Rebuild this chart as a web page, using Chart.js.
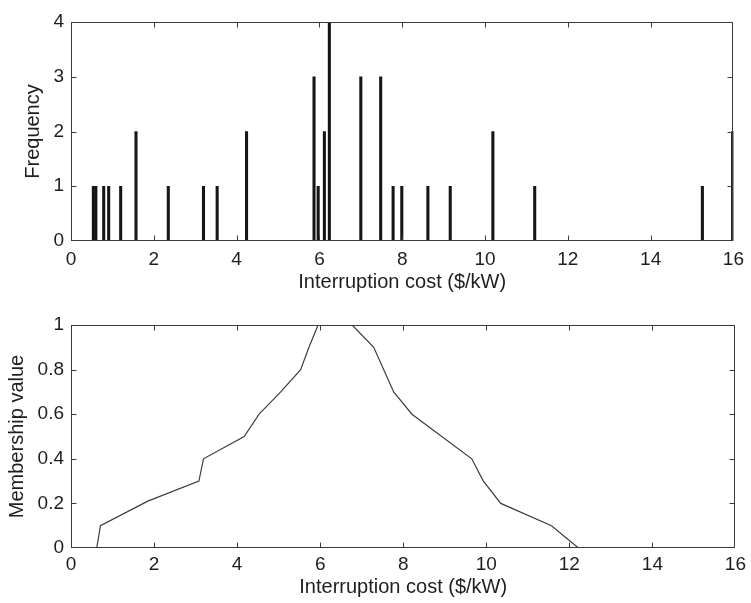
<!DOCTYPE html>
<html>
<head>
<meta charset="utf-8">
<script src="https://cdn.jsdelivr.net/npm/chart.js@4"></script>
<style>
body { margin: 0; background: #fff; }
#wrap { position: relative; width: 751px; height: 603px; background: #fff; }
canvas { position: absolute; left: 0; }
</style>
</head>
<body>
<div id="wrap">
  <canvas id="freqChart" width="751" height="300" style="top:0px"></canvas>
  <canvas id="memberChart" width="751" height="303" style="top:300px"></canvas>
</div>
<script>
// histogram of interruption costs
var costValues = [0.54, 0.60, 0.79, 0.91, 1.20, 1.57, 2.35, 3.20, 3.53, 4.24,
                  5.87, 5.97, 6.12, 6.24, 7.00, 7.48, 7.78, 7.99, 8.62, 9.16,
                  10.19, 11.20, 15.25, 15.98];
var costFrequency = [1, 1, 1, 1, 1, 2, 1, 1, 1, 2,
                     3, 1, 2, 4, 3, 3, 1, 1, 1, 1,
                     2, 1, 1, 2];

// membership function
var memberCost = [0.62, 0.71, 1.85, 3.08, 3.19, 4.17, 4.53, 5.05, 5.53, 5.73,
                  5.95, 6.77, 7.29, 7.77, 8.21, 9.65, 9.93, 10.35, 11.57, 12.22];
var memberValue = [0, 0.1, 0.21, 0.3, 0.4, 0.5, 0.6, 0.7, 0.8, 0.9,
                   1, 1, 0.9, 0.7, 0.6, 0.4, 0.3, 0.2, 0.1, 0];

var costTicks = [0, 2, 4, 6, 8, 10, 12, 14, 16];
var freqTicks = [0, 1, 2, 3, 4];
var memberTicks = [0, 0.2, 0.4, 0.6, 0.8, 1];

var fontFamily = '"Liberation Sans", Arial, Helvetica, sans-serif';
var textColor = '#1e1e1e';

// MATLAB style box with inward ticks
var boxPlugin = {
    id: 'matlabBox',
    afterDraw: function(chart) {
        var a = chart.chartArea;
        var ctx = chart.ctx;
        var l = Math.round(a.left) + 0.5, r = Math.round(a.right) - 0.5;
        var t = Math.round(a.top) + 0.5, b = Math.round(a.bottom) - 0.5;
        ctx.save();
        ctx.strokeStyle = '#3a3a3a';
        ctx.lineWidth = 1;
        ctx.strokeRect(l, t, r - l, b - t);
        ctx.beginPath();
        chart.scales.x.ticks.forEach(function(tk) {
            var px = Math.round(chart.scales.x.getPixelForValue(tk.value)) + 0.5;
            if (px <= l + 1 || px >= r - 1) return;
            ctx.moveTo(px, b); ctx.lineTo(px, b - 5);
            ctx.moveTo(px, t); ctx.lineTo(px, t + 5);
        });
        chart.scales.y.ticks.forEach(function(tk) {
            var py = Math.round(chart.scales.y.getPixelForValue(tk.value)) + 0.5;
            if (py <= t + 1 || py >= b - 1) return;
            ctx.moveTo(l, py); ctx.lineTo(l + 5, py);
            ctx.moveTo(r, py); ctx.lineTo(r - 5, py);
        });
        ctx.stroke();
        ctx.restore();
    }
};

function plainLabel(value) {
    return String(+value.toFixed(2));
}

function costAxis(tickPad, titlePad, axisHeight) {
    return {
        type: 'linear',
        min: 0,
        max: 16,
        offset: false,
        afterBuildTicks: function(scale) {
            scale.ticks = costTicks.map(function(v) { return { value: v }; });
        },
        afterFit: function(scale) { scale.height = axisHeight; },
        grid: { display: false, drawTicks: false, offset: false },
        border: { display: false },
        ticks: {
            padding: tickPad,
            maxRotation: 0,
            autoSkip: false,
            color: textColor,
            callback: plainLabel,
            font: { family: fontFamily, size: 19 }
        },
        title: {
            display: true,
            text: 'Interruption cost ($/kW)',
            color: textColor,
            padding: { top: 0, bottom: titlePad },
            font: { family: fontFamily, size: 20 }
        }
    };
}

function valueAxis(max, tickList, label, titlePad) {
    return {
        type: 'linear',
        min: 0,
        max: max,
        afterBuildTicks: function(scale) {
            scale.ticks = tickList.map(function(v) { return { value: v }; });
        },
        afterFit: function(scale) { scale.width = 71; },
        grid: { display: false, drawTicks: false },
        border: { display: false },
        ticks: {
            padding: 7,
            color: textColor,
            callback: plainLabel,
            font: { family: fontFamily, size: 19 }
        },
        title: {
            display: true,
            text: label,
            color: textColor,
            padding: { top: titlePad, bottom: 0 },
            font: { family: fontFamily, size: 20 }
        }
    };
}

var freqPoints = costValues.map(function(c, i) { return { x: c, y: costFrequency[i] }; });
var memberPoints = memberCost.map(function(c, i) { return { x: c, y: memberValue[i] }; });

new Chart(document.getElementById('freqChart').getContext('2d'), {
    type: 'bar',
    data: {
        datasets: [{
            label: 'Frequency',
            data: freqPoints,
            backgroundColor: '#151515',
            borderWidth: 0,
            barThickness: 2.4
        }]
    },
    options: {
        responsive: false,
        animation: false,
        layout: { padding: { left: 0, right: 13, top: 22, bottom: 0 } },
        plugins: { legend: { display: false }, tooltip: { enabled: false } },
        scales: {
            x: costAxis(7, 6, 59),
            y: valueAxis(4, freqTicks, 'Frequency', 21)
        }
    },
    plugins: [boxPlugin]
});

new Chart(document.getElementById('memberChart').getContext('2d'), {
    type: 'line',
    data: {
        datasets: [{
            label: 'Membership value',
            data: memberPoints,
            borderColor: '#3c3c3c',
            borderWidth: 1.2,
            pointRadius: 0,
            fill: false,
            tension: 0
        }]
    },
    options: {
        responsive: false,
        animation: false,
        layout: { padding: { left: 0, right: 13, top: 25, bottom: 0 } },
        plugins: { legend: { display: false }, tooltip: { enabled: false } },
        scales: {
            x: costAxis(5, 4, 55),
            y: valueAxis(1, memberTicks, 'Membership value', 5)
        }
    },
    plugins: [boxPlugin]
});
</script>
</body>
</html>
